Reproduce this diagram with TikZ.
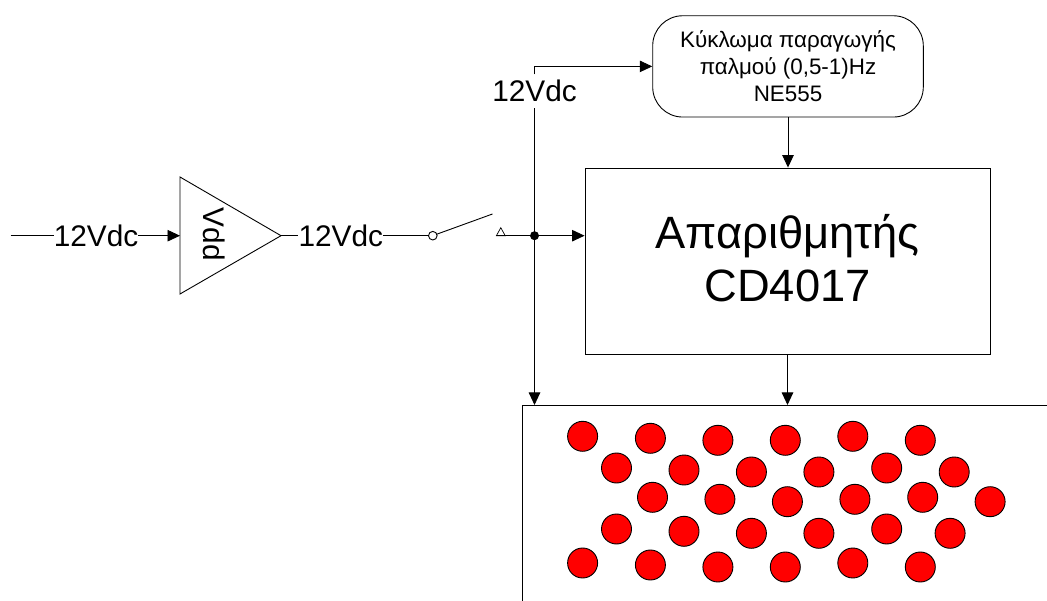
\documentclass[tikz,border=0pt]{standalone}
\usepackage{fontspec}
\setmainfont{Liberation Sans}
\usetikzlibrary{arrows.meta,calc}
\tikzset{
  line/.style={draw=black,line width=0.9pt},
  arrowed/.style={line,-{Triangle[length=12.5pt,width=11.5pt]}},
  volt/.style={inner sep=0pt,fill=white,minimum height=33pt,font=\fontsize{29.8}{32}\selectfont},
  led/.style={circle,draw=black,line width=0.9pt,fill=red,minimum size=30pt,inner sep=0pt},
}
\begin{document}
\begin{tikzpicture}[x=1pt,y=-1pt]
\useasboundingbox (0,0) rectangle (1047,601);
\fill[white] (0,0) rectangle (1047,601);
% coordinates
\coordinate (in) at (10.7,235.7);
\coordinate (ampin) at (180,235.7);
\coordinate (ampout) at (281,235.7);
\coordinate (swA) at (432.8,235.7);
\coordinate (swArm) at (492.5,214);
\coordinate (swB) at (496.4,235.7);
\coordinate (j) at (534.5,235.7);
% amplifier
\path[line] (180,177) -- (ampout) -- (180,294) -- cycle;
\node[rotate=-90,inner sep=0pt,font=\fontsize{29.8}{32}\selectfont] (vdd) at (214,234.5) {Vdd};
% labels
\node[volt] (v1) at (96,235.7) {12Vdc};
\node[volt] (v2) at (340.8,235.7) {12Vdc};
\node[volt] (v3) at (534.5,91) {12Vdc};
% blocks
\node[line,rounded corners=30pt,minimum width=270.6pt,minimum height=101.3pt,inner sep=0pt,align=center,font=\fontsize{22.4}{26.8}\selectfont] (pulse) at (788,66.4) {Κύκλωμα παραγωγής\\παλμού (0,5-1)Hz\\NE555};
\node[line,minimum width=405pt,minimum height=186pt,inner sep=0pt] (box) at (787.5,261) {};
\node[inner sep=0pt,align=center,font=\fontsize{45.3}{53}\selectfont] (boxtext) at (787.5,258) {Απαριθμητής\\CD4017};
% panel
\coordinate (pTL) at (522,405);
\path[line] (1047,405) -- (pTL) -- (522,601);
\coordinate (pA) at (j |- pTL);
\coordinate (pB) at (box.south |- pTL);
% connectors
\draw[line] (in) -- (v1);
\draw[arrowed] (v1) -- (ampin);
\draw[line] (ampout) -- (v2);
\draw[line] (v2) -- ($(swA)+(-4,0)$);
\draw[line,fill=white] (swA) circle (4.3pt);
\draw[line] ($(swA)+(4,-1.5)$) -- (swArm);
\draw[line] (swB) -- (j);
\path[draw=black,line width=0.7pt] (swB) -- (500.8,227.7) -- (505.2,235.7) -- cycle;
\draw[arrowed] (j) -- (box.west |- j);
\draw[line] (j) -- (v3);
\draw[arrowed] (v3.north) |- (pulse.west);
\draw[arrowed] (pulse.south) -- (pulse.south |- box.north);
\draw[arrowed] (j) -- (pA);
\draw[arrowed] (box.south) -- (pB);
\fill[black] (j) circle (4.5pt);
% LEDs
\foreach \n/\x/\y in {
 a1/582.6/436.3,a2/650.4/438.3,a3/717.9/440.3,a4/785.3/440.3,a5/852.8/436.3,a6/920.3/440.3,
 b1/616.5/468,b2/684/470,b3/751.4/472,b4/818.9/472,b5/886.7/468,b6/954.2/472,
 c1/652.5/497.3,c2/719.9/499.3,c3/787.4/501.7,c4/854.9/499.3,c5/922.7/497.3,c6/990.1/501.7,
 d1/616.5/529,d2/684/531.3,d3/751.4/533.3,d4/818.9/533.3,d5/886.7/529,d6/950.1/533.3,
 e1/582.6/563,e2/650.4/565,e3/717.9/567,e4/785.3/567,e5/852.8/563,e6/920.3/567}
 \node[led] (\n) at (\x,\y) {};
\end{tikzpicture}
\end{document}
